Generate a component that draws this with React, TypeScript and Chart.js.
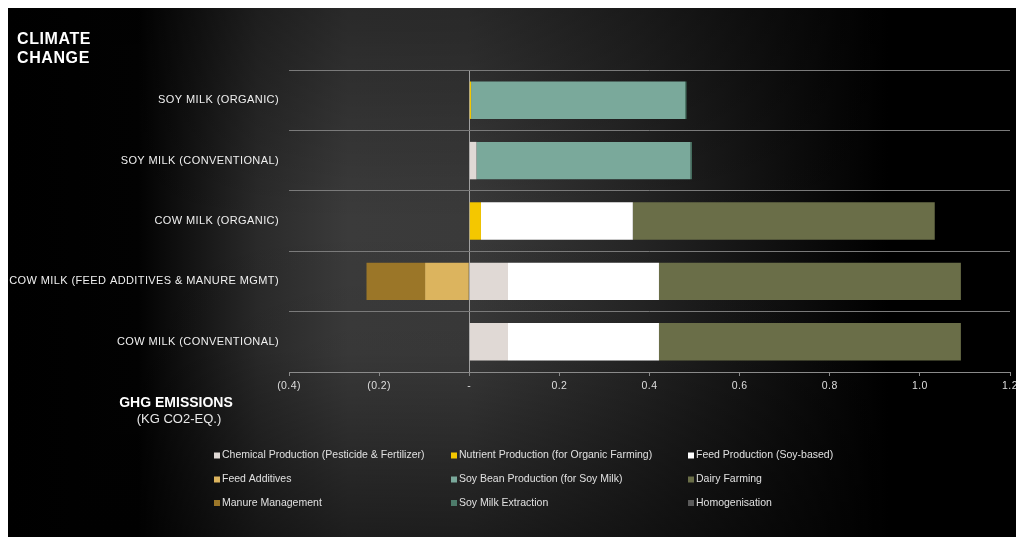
import React, { useEffect, useRef } from "react";
import { Chart, registerables } from "chart.js";

Chart.register(...registerables);

const categories = [
  "SOY MILK (ORGANIC)",
  "SOY MILK (CONVENTIONAL)",
  "COW MILK (ORGANIC)",
  "COW MILK (FEED ADDITIVES & MANURE MGMT)",
  "COW MILK (CONVENTIONAL)",
];

const seriesNames = [
  "Chemical Production (Pesticide & Fertilizer)",
  "Nutrient Production (for Organic Farming)",
  "Feed Production (Soy-based)",
  "Feed Additives",
  "Soy Bean Production (for Soy Milk)",
  "Dairy Farming",
  "Manure Management",
  "Soy Milk Extraction",
  "Homogenisation",
];

const chemicalProduction = [0, 0.016, 0, 0.086, 0.086];
const nutrientProduction = [0.004, 0, 0.026, 0, 0];
const feedProduction = [0, 0, 0.337, 0.335, 0.335];
const feedAdditives = [0, 0, 0, -0.098, 0];
const soyBeanProduction = [0.475, 0.475, 0, 0, 0];
const dairyFarming = [0, 0, 0.67, 0.67, 0.67];
const manureManagement = [0, 0, 0, -0.13, 0];
const soyMilkExtraction = [0.003, 0.003, 0, 0, 0];
const homogenisation = [0, 0, 0, 0, 0];

const seriesValues = [
  chemicalProduction,
  nutrientProduction,
  feedProduction,
  feedAdditives,
  soyBeanProduction,
  dairyFarming,
  manureManagement,
  soyMilkExtraction,
  homogenisation,
];

const seriesColors = [
  "#e0d9d5",
  "#f4c700",
  "#ffffff",
  "#dcb45e",
  "#7aa99b",
  "#6a6e48",
  "#9b7628",
  "#4d7b6a",
  "#5a5a5a",
];

const xMin = -0.4;
const xMax = 1.2;
const xStep = 0.2;

const FONT = "'Liberation Sans', Arial, sans-serif";

function formatTick(v: number): string {
  const r = Math.round(v * 10) / 10;
  if (Math.abs(r) < 1e-9) return "-";
  if (r < 0) return "(" + Math.abs(r).toFixed(1) + ")";
  return r.toFixed(1);
}

export default function App() {
  const ref = useRef<HTMLCanvasElement>(null);

  useEffect(() => {
    document.documentElement.style.overflow = "hidden";
    document.body.style.margin = "8px 0 0 8px";
    document.body.style.overflow = "hidden";
    const canvas = ref.current!;

    const bgPlugin = {
      id: "bgAndText",
      beforeDraw(chart: any) {
        const { ctx, width, height } = chart;
        ctx.save();
        const g = ctx.createLinearGradient(0, 0, width, 0);
        g.addColorStop(0, "#000000");
        g.addColorStop(130 / width, "#020202");
        g.addColorStop(250 / width, "#2a2a2a");
        g.addColorStop(340 / width, "#3b3b3b");
        g.addColorStop(460 / width, "#3a3a3a");
        g.addColorStop(620 / width, "#262626");
        g.addColorStop(780 / width, "#0e0e0e");
        g.addColorStop(880 / width, "#000000");
        g.addColorStop(1, "#000000");
        ctx.fillStyle = g;
        ctx.fillRect(0, 0, width, height);
        const v = ctx.createLinearGradient(0, 0, 0, height);
        v.addColorStop(0, "rgba(0,0,0,0.3)");
        v.addColorStop(0.4, "rgba(0,0,0,0)");
        v.addColorStop(0.65, "rgba(0,0,0,0.05)");
        v.addColorStop(1, "rgba(0,0,0,0.5)");
        ctx.fillStyle = v;
        ctx.fillRect(0, 0, width, height);

        ctx.fillStyle = "#ffffff";
        ctx.textBaseline = "middle";
        ctx.textAlign = "left";
        ctx.font = "bold 16px " + FONT;
        (ctx as any).letterSpacing = "0.6px";
        ctx.fillText("CLIMATE", 9, 32);
        ctx.fillText("CHANGE", 9, 51);
        (ctx as any).letterSpacing = "0px";
        ctx.textAlign = "center";
        ctx.font = "bold 14px " + FONT;
        ctx.fillText("GHG EMISSIONS", 168, 395);
        ctx.font = "13px " + FONT;
        ctx.fillStyle = "#e8e8e8";
        ctx.fillText("(KG CO2-EQ.)", 171, 411);
        ctx.restore();
        (ctx as any).letterSpacing = "0.4px";
      },
      afterDraw(chart: any) {
        const { ctx } = chart;
        ctx.save();
        (ctx as any).letterSpacing = "0px";
        const colX = [206, 443, 680];
        const rowY = [447.5, 471.5, 495];
        ctx.font = "10.5px " + FONT;
        ctx.textBaseline = "middle";
        ctx.textAlign = "left";
        seriesNames.forEach((name, i) => {
          const cx = colX[i % 3];
          const cy = rowY[Math.floor(i / 3)];
          ctx.fillStyle = seriesColors[i];
          ctx.fillRect(cx, cy - 3, 6, 6);
          ctx.fillStyle = "#e0e0e0";
          ctx.fillText(name, cx + 8, cy);
        });
        ctx.restore();
      },
    };

    const chart = new Chart(canvas, {
      type: "bar",
      data: {
        labels: categories,
        datasets: seriesNames.map((name, i) => ({
          label: name,
          data: seriesValues[i],
          backgroundColor: seriesColors[i],
          borderWidth: 0,
          barPercentage: 0.62,
          categoryPercentage: 1,
        })),
      },
      options: {
        indexAxis: "y",
        animation: false,
        responsive: false,
        devicePixelRatio: 1,
        layout: { padding: { left: 0, right: 6, top: 62, bottom: 0 } },
        plugins: {
          legend: { display: false },
          tooltip: { enabled: false },
        },
        scales: {
          x: {
            stacked: true,
            min: xMin,
            max: xMax,
            afterFit(scale: any) {
              scale.height = 165;
              scale.paddingLeft = 0;
              scale.paddingRight = 0;
            },
            ticks: {
              stepSize: xStep,
              color: "#dedede",
              font: { family: FONT, size: 10.5 },
              padding: 4,
              maxRotation: 0,
              callback: (v: any) => formatTick(Number(v)),
            },
            grid: {
              color: (c: any) =>
                c.tick && Math.abs(c.tick.value) < 1e-9 ? "#a0a0a0" : "rgba(0,0,0,0)",
              tickColor: "#8a8a8a",
              tickLength: 4,
              lineWidth: 1,
            },
            border: { display: true, color: "#8a8a8a" },
          },
          y: {
            stacked: true,
            afterFit(scale: any) {
              scale.width = 281;
              scale.paddingTop = 0;
              scale.paddingBottom = 0;
            },
            ticks: {
              color: "#f0f0f0",
              font: { family: FONT, size: 11 },
              padding: 10,
            },
            grid: {
              color: "#7a7a7a",
              drawTicks: false,
              offset: true,
              lineWidth: 1,
            },
            border: { display: false },
          },
        },
      },
      plugins: [bgPlugin],
    } as any);

    return () => chart.destroy();
  }, []);

  return (
    <div>
      <canvas ref={ref} width={1008} height={529} style={{ display: "block" }} />
    </div>
  );
}
